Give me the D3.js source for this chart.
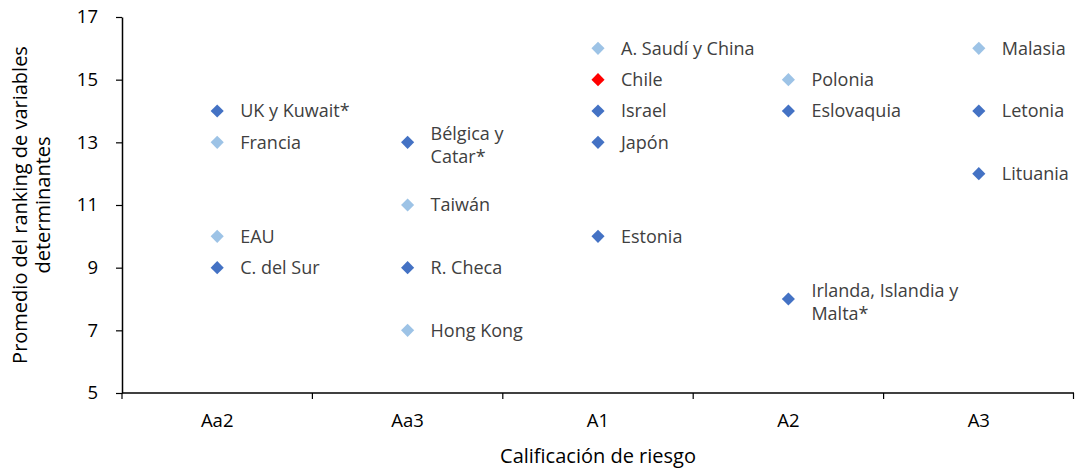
<!DOCTYPE html>
<html>
<head>
<meta charset="utf-8">
<script src="https://cdn.jsdelivr.net/npm/d3@7"></script>
<style>
  html, body { margin: 0; padding: 0; background: #fff; }
  svg { display: block; font-family: "Open Sans", "Noto Sans", sans-serif; }
</style>
</head>
<body>
<svg id="chart" width="1075" height="471"></svg>
<script>
// Rating categories on the horizontal axis
const ratings = ["Aa2", "Aa3", "A1", "A2", "A3"];
// Vertical axis tick values
const yTicks = [5, 7, 9, 11, 13, 15, 17];

// Country groups: label, rating, average ranking, tone
const labels = [
  "UK y Kuwait*", "Francia", "EAU", "C. del Sur",
  "Bélgica y\nCatar*", "Taiwán", "R. Checa", "Hong Kong",
  "A. Saudí y China", "Chile", "Israel", "Japón", "Estonia",
  "Polonia", "Eslovaquia", "Irlanda, Islandia y\nMalta*",
  "Malasia", "Letonia", "Lituania"
];
const groupRating = [
  "Aa2", "Aa2", "Aa2", "Aa2",
  "Aa3", "Aa3", "Aa3", "Aa3",
  "A1", "A1", "A1", "A1", "A1",
  "A2", "A2", "A2",
  "A3", "A3", "A3"
];
const avgRanking = [
  14, 13, 10, 9,
  13, 11, 9, 7,
  16, 15, 14, 13, 10,
  15, 14, 8,
  16, 14, 12
];
const tone = [
  "dark", "light", "light", "dark",
  "dark", "light", "dark", "light",
  "light", "chile", "dark", "dark", "dark",
  "light", "dark", "dark",
  "light", "dark", "dark"
];

const colors = { dark: "#4472C4", light: "#9DC3E6", chile: "#FF0000" };

const points = labels.map((l, i) => ({
  label: l, rating: groupRating[i], value: avgRanking[i], tone: tone[i]
}));

const svg = d3.select("#chart");
const margin = { left: 122, right: 1, top: 17, bottom: 78 };
const W = 1075, H = 471;

const x = d3.scaleBand().domain(ratings).range([margin.left, W - margin.right]).padding(0);
const y = d3.scaleLinear().domain([5, 17]).range([H - margin.bottom, margin.top]);

// Horizontal axis: ticks at category boundaries
const xAxisG = svg.append("g").attr("transform", `translate(0,${y(5)})`);
xAxisG.append("line")
  .attr("x1", x.range()[0]).attr("x2", x.range()[1])
  .attr("stroke", "#000").attr("stroke-width", 1.5);
const bounds = ratings.map(r => x(r)).concat([x.range()[1] - 0.5]);
xAxisG.selectAll("line.tick").data(bounds).join("line")
  .attr("class", "tick")
  .attr("x1", d => d).attr("x2", d => d)
  .attr("y1", 0).attr("y2", 6)
  .attr("stroke", "#000").attr("stroke-width", 1.2);
xAxisG.selectAll("text").data(ratings).join("text")
  .attr("x", d => x(d) + x.bandwidth() / 2)
  .attr("y", 34)
  .attr("text-anchor", "middle")
  .attr("font-size", 18.5)
  .attr("fill", "#000")
  .text(d => d);

// Vertical axis
const yAxis = d3.axisLeft(y).tickValues(yTicks).tickSize(6).tickSizeOuter(0);
const yAxisG = svg.append("g").attr("transform", `translate(${margin.left},0)`).call(yAxis);
yAxisG.select(".domain").attr("stroke", "#000").attr("stroke-width", 1.5);
yAxisG.selectAll(".tick line").attr("stroke", "#000").attr("stroke-width", 1.2);
yAxisG.selectAll(".tick text")
  .attr("font-size", 18.5).attr("fill", "#000")
  .attr("font-family", "'Open Sans', sans-serif")
  .attr("x", -24);

// Axis titles
svg.append("text")
  .attr("x", x.range()[0] + (x.range()[1] - x.range()[0]) / 2)
  .attr("y", 463)
  .attr("text-anchor", "middle")
  .attr("font-size", 20)
  .attr("fill", "#000")
  .text("Calificación de riesgo");

const yTitle = svg.append("text")
  .attr("transform", `translate(0,${y(11)}) rotate(-90)`)
  .attr("text-anchor", "middle")
  .attr("font-size", 20)
  .attr("fill", "#000");
yTitle.append("tspan").attr("x", 0).attr("y", 27).text("Promedio del ranking de variables");
yTitle.append("tspan").attr("x", 0).attr("y", 50).text("determinantes");

// Diamond markers
const diamond = d3.symbol().type(d3.symbolDiamond2).size(110);
const pts = svg.append("g");
pts.selectAll("path").data(points).join("path")
  .attr("transform", d => `translate(${x(d.rating) + x.bandwidth() / 2},${y(d.value)})`)
  .attr("d", diamond)
  .attr("fill", d => colors[d.tone]);

// Data labels, right of each marker (one text element per line)
const lineH = 23.5;
const labelLines = points.flatMap(d => {
  const lines = d.label.split("\n");
  const extra = lines.length > 1 ? 3 : 0;
  return lines.map((ln, k) => ({
    text: ln,
    x: x(d.rating) + x.bandwidth() / 2 + 23,
    y: y(d.value) + extra + (k - (lines.length - 1) / 2) * lineH
  }));
});
pts.selectAll("text").data(labelLines).join("text")
  .attr("x", d => d.x)
  .attr("y", d => d.y)
  .attr("dy", "0.35em")
  .attr("font-size", 18)
  .attr("fill", "#404040")
  .text(d => d.text);
</script>
</body>
</html>
